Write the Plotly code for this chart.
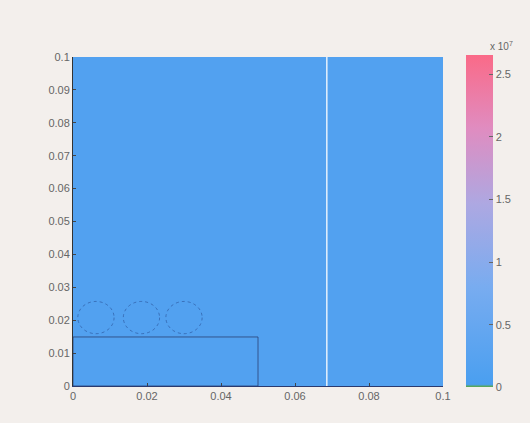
import plotly.graph_objects as go

# field data (scalar values, units of 1)
x_edges = [0.0, 0.025, 0.05, 0.075, 0.1]
y_edges = [0.0, 0.015, 0.05, 0.1]
z_values = [
    [1.6e6, 1.5e6, 1.6e6, 1.5e6],
    [1.5e6, 1.6e6, 1.5e6, 1.6e6],
    [1.6e6, 1.5e6, 1.6e6, 1.5e6],
]
z_min, z_max = 0.0, 2.65e7

# geometry
circle_cx = [0.0062, 0.0185, 0.0300]
circle_cy = [0.0208, 0.0208, 0.0208]
circle_r = [0.0049, 0.0049, 0.0049]
rect_x = [0.0, 0.05]
rect_y = [0.0, 0.0149]

x_ticks = [0, 0.02, 0.04, 0.06, 0.08, 0.1]
x_tick_text = ["0", "0.02", "0.04", "0.06", "0.08", "0.1"]
y_ticks = [0, 0.01, 0.02, 0.03, 0.04, 0.05, 0.06, 0.07, 0.08, 0.09, 0.1]
y_tick_text = ["0", "0.01", "0.02", "0.03", "0.04", "0.05", "0.06", "0.07", "0.08", "0.09", "0.1"]
cb_ticks = [0, 0.5e7, 1.0e7, 1.5e7, 2.0e7, 2.5e7]
cb_tick_text = ["0", "0.5", "1", "1.5", "2", "2.5"]

colorscale = [
    [0.0, "#5aa83c"],
    [0.008, "#4a9ff0"],
    [0.3, "#78acf0"],
    [0.55, "#ada8e2"],
    [0.78, "#e08cc0"],
    [1.0, "#fa6a88"],
]

fig = go.Figure()
fig.add_trace(go.Heatmap(
    x=x_edges, y=y_edges, z=z_values,
    zmin=z_min, zmax=z_max, colorscale=colorscale,
    showscale=True,
    colorbar=dict(
        x=1.062, xanchor="left", y=0.5, yanchor="middle",
        xpad=0, ypad=0,
        thickness=27, thicknessmode="pixels",
        len=332, lenmode="pixels",
        outlinewidth=0,
        tickvals=cb_ticks, ticktext=cb_tick_text,
        ticks="inside", ticklen=4, tickcolor="#666",
        tickfont=dict(family="Liberation Sans, Arial", size=11, color="#666"),
    ),
    hoverinfo="skip",
))

shapes = []
for cx, cy, r in zip(circle_cx, circle_cy, circle_r):
    shapes.append(dict(type="circle", xref="x", yref="y",
                       x0=cx - r, x1=cx + r, y0=cy - r, y1=cy + r,
                       line=dict(color="rgba(40,80,150,0.6)", width=1, dash="dot")))
shapes.append(dict(type="rect", xref="x", yref="y",
                   x0=rect_x[0], x1=rect_x[1], y0=rect_y[0], y1=rect_y[1],
                   line=dict(color="rgba(40,60,110,0.75)", width=1)))
# bright scan streak
shapes.append(dict(type="line", xref="x", yref="paper", x0=0.0686, x1=0.0686, y0=0, y1=1,
                   line=dict(color="rgba(255,255,255,0.85)", width=1.5)))

fig.update_layout(
    width=530, height=423,
    margin=dict(l=73, r=87, t=57, b=37, autoexpand=False),
    paper_bgcolor="#f3efec", plot_bgcolor="#f3efec",
    shapes=shapes,
    font=dict(family="Liberation Sans, Arial", size=11, color="#666"),
    annotations=[dict(xref="paper", yref="paper", x=1.122, y=1.01, xanchor="left", yanchor="bottom",
                      text="x 10<sup>7</sup>", showarrow=False,
                      font=dict(size=10, color="#666"))],
)
fig.update_xaxes(range=[0, 0.1], tickvals=x_ticks, ticktext=x_tick_text,
                 showgrid=False, zeroline=False, ticks="inside", ticklen=3,
                 showline=True, linecolor="#2a3a70", linewidth=1,
                 tickfont=dict(size=11, color="#666"))
fig.update_yaxes(range=[0, 0.1], tickvals=y_ticks, ticktext=y_tick_text,
                 showgrid=False, zeroline=False, ticks="inside", ticklen=3,
                 showline=True, linecolor="#333", linewidth=1,
                 tickfont=dict(size=11, color="#666"))

fig.write_html("out.html")
